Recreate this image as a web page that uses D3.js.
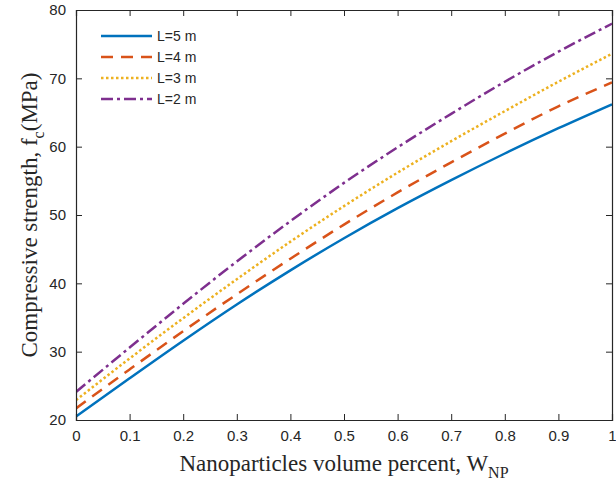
<!DOCTYPE html>
<html>
<head>
<meta charset="utf-8">
<script src="https://cdn.jsdelivr.net/npm/d3@7"></script>
<style>
  body { margin: 0; background: #fff; }
  svg { display: block; }
</style>
</head>
<body>
<svg id="chart" width="616" height="484"></svg>
<script>
// volume percent of nanoparticles
const wNP = [0, 0.1, 0.2, 0.3, 0.4, 0.5, 0.6, 0.7, 0.8, 0.9, 1];
// compressive strength (MPa)
const fcL5 = [20.5, 26.1, 31.6, 36.9, 41.9, 46.6, 51.0, 55.1, 59.0, 62.7, 66.2];
const fcL4 = [21.7, 27.4, 33.0, 38.4, 43.6, 48.6, 53.3, 57.7, 61.9, 65.9, 69.4];
const fcL3 = [22.9, 29.0, 34.9, 40.6, 46.1, 51.3, 56.2, 60.8, 65.2, 69.5, 73.6];
const fcL2 = [24.1, 30.6, 37.0, 43.2, 49.1, 54.7, 59.9, 64.8, 69.5, 73.9, 78.0];
const seriesNames = ["L=5 m", "L=4 m", "L=3 m", "L=2 m"];
const xTicks = [0, 0.1, 0.2, 0.3, 0.4, 0.5, 0.6, 0.7, 0.8, 0.9, 1];
const yTicks = [20, 30, 40, 50, 60, 70, 80];

const series = [
    {name: seriesNames[0], values: fcL5, color: "#0072BD", dash: null},
    {name: seriesNames[1], values: fcL4, color: "#D95319", dash: "12,8"},
    {name: seriesNames[2], values: fcL3, color: "#EDB120", dash: "2.5,2.5"},
    {name: seriesNames[3], values: fcL2, color: "#7E2F8E", dash: "12,4,3,4"}
];

const width = 616;
const height = 484;
const margin = {top: 10, right: 4, bottom: 64, left: 76};
const axisColor = "#262626";

let svg = d3.select("#chart");

let x = d3.scaleLinear()
    .domain([0, 1])
    .range([margin.left, width - margin.right]);
let y = d3.scaleLinear()
    .domain([20, 80])
    .range([height - margin.bottom, margin.top]);

// curves
let line = d3.line()
    .x((d, i) => x(wNP[i]))
    .y(d => y(d))
    .curve(d3.curveMonotoneX);

svg.append("clipPath")
    .attr("id", "plotClip")
    .append("rect")
    .attr("x", margin.left)
    .attr("y", margin.top)
    .attr("width", width - margin.left - margin.right)
    .attr("height", height - margin.top - margin.bottom);

svg.append("g")
    .attr("clip-path", "url(#plotClip)")
    .selectAll("path")
    .data(series)
    .join("path")
    .attr("fill", "none")
    .attr("stroke", d => d.color)
    .attr("stroke-width", 2.5)
    .attr("stroke-dasharray", d => d.dash)
    .attr("d", d => line(d.values));

// axes with inward ticks, box on
let tickLen = 6;
let xAxis = svg.append("g")
    .attr("transform", "translate(0," + y(20) + ")")
    .call(d3.axisBottom(x).tickValues(xTicks).tickSize(-tickLen).tickPadding(10)
        .tickFormat(d => d3.format("")(d)));
let yAxis = svg.append("g")
    .attr("transform", "translate(" + x(0) + ",0)")
    .call(d3.axisLeft(y).tickValues(yTicks).tickSize(-tickLen).tickPadding(10));
let xTop = svg.append("g")
    .attr("transform", "translate(0," + y(80) + ")")
    .call(d3.axisTop(x).tickValues(xTicks).tickSize(-tickLen).tickFormat(""));
let yRight = svg.append("g")
    .attr("transform", "translate(" + x(1) + ",0)")
    .call(d3.axisRight(y).tickValues(yTicks).tickSize(-tickLen).tickFormat(""));

[xAxis, yAxis, xTop, yRight].forEach(g => {
    g.select(".domain").attr("stroke", axisColor).attr("stroke-width", 1.2);
    g.selectAll(".tick line").attr("stroke", axisColor).attr("stroke-width", 1);
    g.selectAll(".tick text")
        .attr("fill", axisColor)
        .style("font-family", "'Liberation Sans', Arial, sans-serif")
        .style("font-size", "15px");
});

// axis titles
let xTitle = svg.append("text")
    .attr("x", (x(0) + x(1)) / 2)
    .attr("y", 471)
    .attr("text-anchor", "middle")
    .attr("fill", axisColor)
    .style("font-family", "'Liberation Serif', 'Times New Roman', serif")
    .style("font-size", "23px");
xTitle.append("tspan").text("Nanoparticles volume percent, W");
xTitle.append("tspan").attr("dy", 7).style("font-size", "16px").text("NP");

let yTitle = svg.append("text")
    .attr("transform", "translate(37," + y(50) + ") rotate(-90)")
    .attr("text-anchor", "middle")
    .attr("fill", axisColor)
    .style("font-family", "'Liberation Serif', 'Times New Roman', serif")
    .style("font-size", "23px");
yTitle.append("tspan").text("Compressive strength, f");
yTitle.append("tspan").attr("dy", 7).style("font-size", "16px").text("c");
yTitle.append("tspan").attr("dy", -7).text("(MPa)");

// legend
let legend = svg.append("g")
    .selectAll("g")
    .data(series)
    .join("g")
    .attr("transform", (d, i) => "translate(0," + (36 + i * 21) + ")");
legend.append("line")
    .attr("x1", 101)
    .attr("x2", 152)
    .attr("stroke", d => d.color)
    .attr("stroke-width", 2.5)
    .attr("stroke-dasharray", d => d.dash);
legend.append("text")
    .attr("x", 157)
    .attr("dy", "0.35em")
    .attr("fill", axisColor)
    .style("font-family", "'Liberation Sans', Arial, sans-serif")
    .style("font-size", "14px")
    .text(d => d.name);
</script>
</body>
</html>
